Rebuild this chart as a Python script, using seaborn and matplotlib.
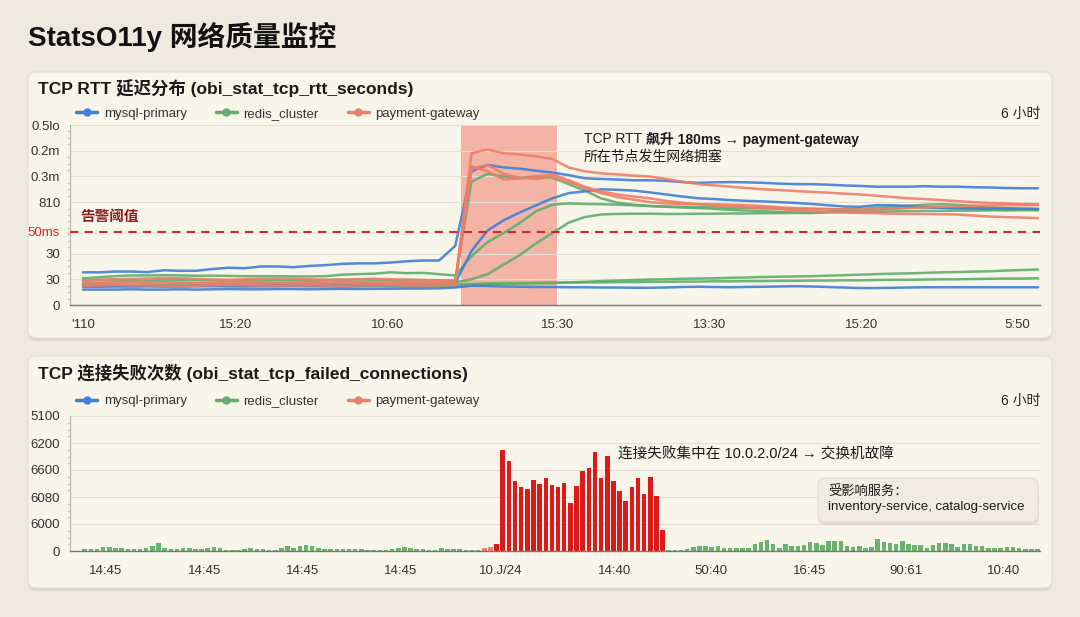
import pandas as pd
import seaborn as sns
import matplotlib.pyplot as plt
from matplotlib.patches import FancyBboxPatch
from matplotlib.lines import Line2D
from matplotlib.ticker import MultipleLocator

# ---------------- data ----------------
services = ['mysql-primary', 'redis_cluster', 'payment-gateway']
service_colors = {'mysql-primary': '#3f7fd6', 'redis_cluster': '#5fae6d', 'payment-gateway': '#f07d68'}

# TCP RTT panel (60 samples over 6 h, value in axis units)
rtt_xticks = [0, 9.45, 18.84, 29.34, 38.7, 48.1, 57.7]
rtt_xlabels = ["'110", '15:20', '10:60', '15:30', '13:30', '15:20', '5:50']
rtt_yticks = [0, 1, 2, 2.85, 4, 5, 6, 7]
rtt_ylabels = ['0', '30', '30', '50ms', '810', '0.3m', '0.2m', '0.5lo']
alert_level = 2.85
incident_window = (23.35, 29.3)

mysql_a = [1.27, 1.27, 1.3, 1.3, 1.28, 1.35, 1.33, 1.33, 1.4, 1.45, 1.43, 1.5, 1.5, 1.47, 1.52,
           1.55, 1.6, 1.62, 1.62, 1.65, 1.7, 1.73, 1.73, 2.3, 5.2, 5.45, 5.35, 5.3, 5.22, 5.15,
           5.05, 4.93, 4.9, 4.88, 4.85, 4.85, 4.83, 4.78, 4.75, 4.77, 4.78, 4.77, 4.75, 4.72, 4.7,
           4.7, 4.68, 4.65, 4.63, 4.6, 4.6, 4.6, 4.62, 4.6, 4.6, 4.58, 4.57, 4.55, 4.54, 4.54]
mysql_b = [0.72, 0.72, 0.73, 0.72, 0.74, 0.74, 0.73, 0.75, 0.74, 0.75, 0.75, 0.74, 0.76, 0.75, 0.76,
           0.77, 0.76, 0.76, 0.78, 0.77, 0.78, 0.78, 0.8, 0.85, 2.1, 2.9, 3.3, 3.6, 3.88, 4.15,
           4.35, 4.42, 4.5, 4.48, 4.45, 4.38, 4.3, 4.22, 4.15, 4.12, 4.08, 4.05, 4.03, 4.0, 3.97,
           3.93, 3.88, 3.83, 3.82, 3.88, 3.88, 3.85, 3.8, 3.78, 3.77, 3.76, 3.75, 3.75, 3.74, 3.74]
mysql_c = [0.6, 0.6, 0.6, 0.61, 0.6, 0.6, 0.61, 0.6, 0.61, 0.62, 0.61, 0.61, 0.62, 0.62, 0.61,
           0.62, 0.63, 0.62, 0.63, 0.63, 0.64, 0.64, 0.65, 0.68, 0.75, 0.74, 0.72, 0.71, 0.7, 0.7,
           0.69, 0.69, 0.68, 0.68, 0.67, 0.67, 0.68, 0.7, 0.71, 0.7, 0.69, 0.7, 0.71, 0.72, 0.73,
           0.72, 0.7, 0.68, 0.66, 0.66, 0.67, 0.68, 0.69, 0.69, 0.69, 0.69, 0.69, 0.69, 0.69, 0.69]
redis_a = [1.04, 1.08, 1.12, 1.15, 1.15, 1.16, 1.15, 1.14, 1.14, 1.13, 1.12, 1.12, 1.12, 1.11, 1.11,
           1.12, 1.18, 1.2, 1.22, 1.27, 1.24, 1.25, 1.2, 1.15, 1.9, 2.45, 2.8, 3.2, 3.65, 3.9,
           3.95, 3.93, 3.92, 3.9, 3.88, 3.85, 3.83, 3.82, 3.81, 3.8, 3.78, 3.77, 3.76, 3.75, 3.74,
           3.73, 3.73, 3.72, 3.72, 3.71, 3.75, 3.78, 3.8, 3.78, 3.75, 3.72, 3.71, 3.7, 3.7, 3.69]
redis_b = [0.85, 0.86, 0.88, 0.88, 0.87, 0.88, 0.87, 0.86, 0.86, 0.87, 0.87, 0.86, 0.86, 0.87, 0.88,
           0.87, 0.88, 0.88, 0.87, 0.88, 0.88, 0.87, 0.86, 0.88, 1.0, 1.2, 1.58, 1.95, 2.4, 2.8,
           3.2, 3.42, 3.52, 3.54, 3.55, 3.55, 3.54, 3.54, 3.55, 3.55, 3.56, 3.56, 3.57, 3.57, 3.58,
           3.58, 3.6, 3.61, 3.62, 3.63, 3.64, 3.65, 3.66, 3.66, 3.67, 3.67, 3.68, 3.68, 3.69, 3.69]
redis_c = [0.95, 0.97, 0.98, 0.96, 0.95, 0.97, 0.98, 0.97, 0.96, 0.95, 0.96, 0.97, 0.98, 0.97, 0.96,
           0.97, 0.98, 0.99, 0.98, 0.97, 0.98, 0.97, 0.96, 0.95, 4.8, 5.1, 5.0, 4.95, 5.0, 4.95,
           4.7, 4.45, 4.15, 3.98, 3.9, 3.85, 3.82, 3.79, 3.77, 3.74, 3.7, 3.67, 3.65, 3.62, 3.6,
           3.58, 3.62, 3.68, 3.73, 3.78, 3.82, 3.86, 3.9, 3.92, 3.9, 3.85, 3.8, 3.77, 3.75, 3.73]
redis_d = [0.72, 0.71, 0.72, 0.73, 0.72, 0.71, 0.72, 0.72, 0.73, 0.72, 0.71, 0.72, 0.72, 0.73, 0.72,
           0.72, 0.71, 0.72, 0.73, 0.72, 0.72, 0.71, 0.72, 0.72, 0.76, 0.8, 0.82, 0.84, 0.85, 0.86,
           0.88, 0.9, 0.93, 0.95, 0.97, 0.99, 1.0, 1.02, 1.03, 1.04, 1.06, 1.07, 1.09, 1.1, 1.11,
           1.12, 1.14, 1.16, 1.18, 1.2, 1.22, 1.23, 1.25, 1.27, 1.28, 1.3, 1.31, 1.34, 1.36, 1.38]
redis_e = [0.78, 0.78, 0.79, 0.78, 0.77, 0.78, 0.78, 0.79, 0.78, 0.78, 0.77, 0.78, 0.78, 0.79, 0.78,
           0.78, 0.78, 0.79, 0.78, 0.78, 0.79, 0.78, 0.78, 0.8, 0.82, 0.84, 0.85, 0.85, 0.86, 0.86,
           0.87, 0.88, 0.88, 0.89, 0.89, 0.9, 0.9, 0.91, 0.91, 0.92, 0.92, 0.93, 0.93, 0.94, 0.94,
           0.95, 0.95, 0.96, 0.96, 0.97, 0.98, 0.98, 0.99, 1.0, 1.0, 1.01, 1.02, 1.03, 1.03, 1.04]
pay_a = [0.95, 0.98, 1.0, 1.02, 1.03, 1.05, 1.04, 1.02, 1.0, 0.98, 1.0, 1.02, 1.03, 1.02, 1.0,
         0.98, 0.99, 1.0, 1.02, 1.0, 0.98, 0.97, 0.95, 0.9, 5.9, 6.05, 5.9, 5.85, 5.78, 5.68,
         5.35, 5.2, 5.12, 5.08, 5.03, 5.0, 4.9, 4.8, 4.7, 4.65, 4.6, 4.55, 4.5, 4.47, 4.43,
         4.4, 4.37, 4.33, 4.3, 4.25, 4.2, 4.15, 4.12, 4.08, 4.04, 4.0, 3.97, 3.95, 3.93, 3.92]
pay_b = [0.85, 0.86, 0.88, 0.9, 0.89, 0.88, 0.86, 0.85, 0.86, 0.88, 0.9, 0.89, 0.87, 0.86, 0.85,
         0.86, 0.87, 0.88, 0.87, 0.86, 0.85, 0.86, 0.85, 0.85, 5.4, 5.2, 4.88, 4.92, 5.0, 5.08,
         4.85, 4.6, 4.42, 4.3, 4.22, 4.15, 4.05, 3.98, 3.92, 3.87, 3.83, 3.8, 3.77, 3.73, 3.68,
         3.65, 3.63, 3.6, 3.58, 3.57, 3.55, 3.54, 3.54, 3.53, 3.52, 3.48, 3.44, 3.42, 3.4, 3.38]
pay_c = [0.75, 0.76, 0.78, 0.77, 0.76, 0.75, 0.74, 0.75, 0.77, 0.78, 0.77, 0.76, 0.75, 0.76, 0.77,
         0.76, 0.75, 0.76, 0.77, 0.78, 0.77, 0.76, 0.77, 0.78, 5.3, 5.45, 5.1, 4.95, 4.9, 4.98,
         4.8, 4.55, 4.35, 4.2, 4.1, 4.0, 3.95, 3.93, 3.92, 3.92, 3.9, 3.88, 3.85, 3.8, 3.77,
         3.75, 3.73, 3.72, 3.72, 3.73, 3.75, 3.77, 3.8, 3.82, 3.84, 3.86, 3.87, 3.88, 3.88, 3.88]

rtt_lines = [
    ('redis_cluster', 'redis_a', redis_a), ('redis_cluster', 'redis_b', redis_b),
    ('redis_cluster', 'redis_c', redis_c), ('redis_cluster', 'redis_d', redis_d),
    ('redis_cluster', 'redis_e', redis_e),
    ('mysql-primary', 'mysql_a', mysql_a), ('mysql-primary', 'mysql_b', mysql_b),
    ('mysql-primary', 'mysql_c', mysql_c),
    ('payment-gateway', 'pay_a', pay_a), ('payment-gateway', 'pay_b', pay_b),
    ('payment-gateway', 'pay_c', pay_c),
]

# TCP failed connections panel (one bar per interval)
fail_xticks = [3.4, 19.5, 35.4, 51.3, 67.7, 86.2, 101.8, 117.9, 133.6, 149.5]
fail_xlabels = ['14:45', '14:45', '14:45', '14:45', '10.J/24', '14:40', '50:40', '16:45', '90:61', '10:40']
fail_yticks = [0, 1, 2, 3, 4, 5]
fail_ylabels = ['0', '6000', '6080', '6600', '6200', '5100']

fail_before = [0.07, 0.07, 0.08, 0.16, 0.16, 0.12, 0.11, 0.08, 0.08, 0.08, 0.1, 0.17, 0.3, 0.11, 0.08,
               0.08, 0.1, 0.12, 0.08, 0.08, 0.11, 0.16, 0.1, 0.03, 0.03, 0.04, 0.06, 0.11, 0.08, 0.08,
               0.04, 0.04, 0.11, 0.17, 0.12, 0.17, 0.22, 0.18, 0.12, 0.06, 0.06, 0.06, 0.06, 0.06, 0.09,
               0.09, 0.05, 0.05, 0.05, 0.05, 0.09, 0.12, 0.14, 0.11, 0.06, 0.06, 0.05, 0.05, 0.1, 0.08,
               0.06, 0.06, 0.04, 0.05, 0.03]
fail_warmup = [0.1, 0.15, 0.27]
fail_warmup_kind = ['warn', 'warn', 'fail']
fail_burst = [3.74, 3.35, 2.6, 2.36, 2.3, 2.63, 2.5, 2.72, 2.44, 2.37, 2.53, 1.79, 2.42, 2.98, 3.06,
              3.68, 2.72, 3.52, 2.58, 2.23, 1.84, 2.36, 2.69, 2.11, 2.73, 2.04, 0.78]
fail_after = [0.04, 0.04, 0.04, 0.06, 0.15, 0.17, 0.19, 0.14, 0.17, 0.12, 0.11, 0.11, 0.11, 0.12, 0.27,
              0.35, 0.41, 0.25, 0.12, 0.25, 0.19, 0.19, 0.22, 0.35, 0.31, 0.22, 0.37, 0.37, 0.37, 0.17,
              0.15, 0.17, 0.1, 0.15, 0.43, 0.35, 0.31, 0.25, 0.37, 0.27, 0.22, 0.22, 0.12, 0.22, 0.31,
              0.31, 0.27, 0.15, 0.25, 0.25, 0.17, 0.17, 0.1, 0.12, 0.1, 0.15, 0.15, 0.1, 0.08, 0.07,
              0.06]
bar_colors = {'ok': '#6bb26d', 'warn': '#ea8370', 'fail': '#dc1a1a'}

# ---------------- build tables ----------------
rows = []
for service, line_id, values in rtt_lines:
    for t, v in enumerate(values):
        rows.append({'t': t, 'v': v, 'service': service, 'line': line_id})
rtt = pd.DataFrame(rows)

counts = fail_before + fail_warmup + fail_burst + fail_after
kinds = (['ok'] * len(fail_before) + fail_warmup_kind
         + ['fail'] * len(fail_burst) + ['ok'] * len(fail_after))
fails = pd.DataFrame({'idx': range(len(counts)), 'count': counts, 'kind': kinds})

# ---------------- style ----------------
sns.set_theme(style='white')
plt.rcParams['font.family'] = ['Liberation Sans', 'Noto Sans CJK SC', 'DejaVu Sans']
plt.rcParams['axes.unicode_minus'] = False

W, H = 1080, 617
fig = plt.figure(figsize=(W / 100, H / 100), dpi=100)
fig.patch.set_facecolor('#efeadf')


def fx(px):
    return px / W


def fy(py):
    return 1 - py / H


def rounded(left, top, right, bottom, color, z, edge='none', r=0.08, alpha=1.0):
    # rounded box given in pixel coords (top-left origin)
    fig.patches.append(FancyBboxPatch(
        (left / 100, (H - bottom) / 100), (right - left) / 100, (bottom - top) / 100,
        boxstyle=f'round,pad=0,rounding_size={r}', transform=fig.dpi_scale_trans,
        facecolor=color, edgecolor=edge, lw=0.8, alpha=alpha, zorder=z))


def card(left, top, right, bottom):
    rounded(left, top + 3, right, bottom + 3, '#d8d1c1', -2, alpha=0.6)
    rounded(left, top + 1.5, right, bottom + 1.5, '#cfc8b8', -2, alpha=0.5)
    rounded(left, top, right, bottom, '#f8f5ea', -1, edge='#e5dfd0')


card(28, 72, 1052, 338)
card(28, 356, 1052, 588)

fig.text(fx(28), fy(37), 'StatsO11y 网络质量监控', fontsize=20, weight='bold', color='#111', va='center')

legend_handles = [Line2D([0], [0], color=service_colors[s], lw=2.5, marker='o', markersize=5)
                  for s in services]


def panel_header(title_y, legend_y, title):
    fig.text(fx(38), fy(title_y), title, fontsize=12.5, weight='bold', color='#1a1a1a', va='center')
    fig.legend(legend_handles, services, loc='center left', bbox_to_anchor=(fx(76), fy(legend_y)),
               ncol=3, frameon=False, fontsize=9.5, handlelength=1.6, handletextpad=0.5,
               columnspacing=2.2, borderpad=0, borderaxespad=0, labelcolor='#333')
    fig.text(fx(1040), fy(legend_y), '6 小时', fontsize=10, color='#222', va='center', ha='right')


def style_axes(ax):
    ax.set_zorder(1)
    ax.patch.set_alpha(0)
    for s in ['top', 'right']:
        ax.spines[s].set_visible(False)
    ax.spines['left'].set_color('#b5b0a5')
    ax.spines['left'].set_linewidth(0.8)
    ax.spines['bottom'].set_color('#777')
    ax.spines['bottom'].set_linewidth(1.0)
    ax.grid(axis='y', color='#e4dfd2', lw=0.8)
    ax.grid(axis='x', visible=False)
    ax.tick_params(axis='both', which='major', length=4, color='#888', labelcolor='#333')
    ax.tick_params(axis='y', labelsize=9.5, pad=3)
    ax.tick_params(axis='x', labelsize=9.5, pad=6)
    ax.tick_params(axis='y', which='minor', length=2, color='#ccc', left=True)
    ax.set_xlabel('')
    ax.set_ylabel('')


# ---------------- TCP RTT panel ----------------
panel_header(88, 114, 'TCP RTT 延迟分布 (obi_stat_tcp_rtt_seconds)')
ax1 = fig.add_axes([fx(70), fy(305), fx(1040) - fx(70), fy(125) - fy(305)])
ax1.axvspan(*incident_window, color='#f08a78', alpha=0.6, lw=0, zorder=0)
sns.lineplot(data=rtt, x='t', y='v', hue='service', units='line', estimator=None,
             hue_order=['redis_cluster', 'mysql-primary', 'payment-gateway'],
             palette=service_colors, lw=1.8, alpha=0.9, legend=False, ax=ax1)
ax1.axhline(alert_level, color='#d7262b', lw=1.5, ls=(0, (4, 3)), zorder=5)
ax1.set_xlim(-0.8, 59.12)
ax1.set_ylim(0, 7)
ax1.set_xticks(rtt_xticks)
ax1.set_xticklabels(rtt_xlabels)
ax1.set_yticks(rtt_yticks)
ax1.set_yticklabels(rtt_ylabels)
ax1.yaxis.set_minor_locator(MultipleLocator(0.25))
style_axes(ax1)
ax1.get_yticklabels()[3].set_color('#d7262b')
ax1.get_ygridlines()[3].set_visible(False)

fig.text(fx(80), fy(217), '告警阈值', fontsize=10.5, weight='bold', color='#8e1f1f', va='center')
t1 = fig.text(fx(584), fy(139), 'TCP RTT ', fontsize=10, color='#1a1a1a', va='center')
ax1.annotate('飙升 180ms → payment-gateway', xy=(1, 0.5), xycoords=t1, va='center', ha='left',
             fontsize=10, weight='bold', color='#1a1a1a', annotation_clip=False)
fig.text(fx(584), fy(157), '所在节点发生网络拥塞', fontsize=10, color='#1a1a1a', va='center')

# ---------------- TCP failed connections panel ----------------
panel_header(373, 401, 'TCP 连接失败次数 (obi_stat_tcp_failed_connections)')
ax2 = fig.add_axes([fx(70), fy(551), fx(1040) - fx(70), fy(416) - fy(551)])
sns.barplot(data=fails, x='idx', y='count', hue='kind', palette=bar_colors, dodge=False,
            width=0.74, saturation=1, legend=False, edgecolor='none', linewidth=0, ax=ax2)
ax2.set_xlim(-2.4, 155.4)
ax2.set_ylim(0, 5)
ax2.set_xticks(fail_xticks)
ax2.set_xticklabels(fail_xlabels)
ax2.set_yticks(fail_yticks)
ax2.set_yticklabels(fail_ylabels)
ax2.yaxis.set_minor_locator(MultipleLocator(0.25))
style_axes(ax2)

fig.text(fx(618), fy(455), '连接失败集中在 10.0.2.0/24 → 交换机故障', fontsize=10.5, color='#1a1a1a',
         va='center', zorder=4)
rounded(818, 481, 1039, 525, '#d9d3c4', 3, alpha=0.6, r=0.07)
rounded(818, 478, 1038, 522, '#f0ece1', 3, edge='#e2dccd', r=0.07)
fig.text(fx(828), fy(492), '受影响服务：', fontsize=9.5, color='#1a1a1a', va='center', zorder=4)
fig.text(fx(828), fy(507), 'inventory-service, catalog-service', fontsize=9.5, color='#1a1a1a',
         va='center', zorder=4)

fig.savefig('out.png', dpi=100, facecolor=fig.get_facecolor())
